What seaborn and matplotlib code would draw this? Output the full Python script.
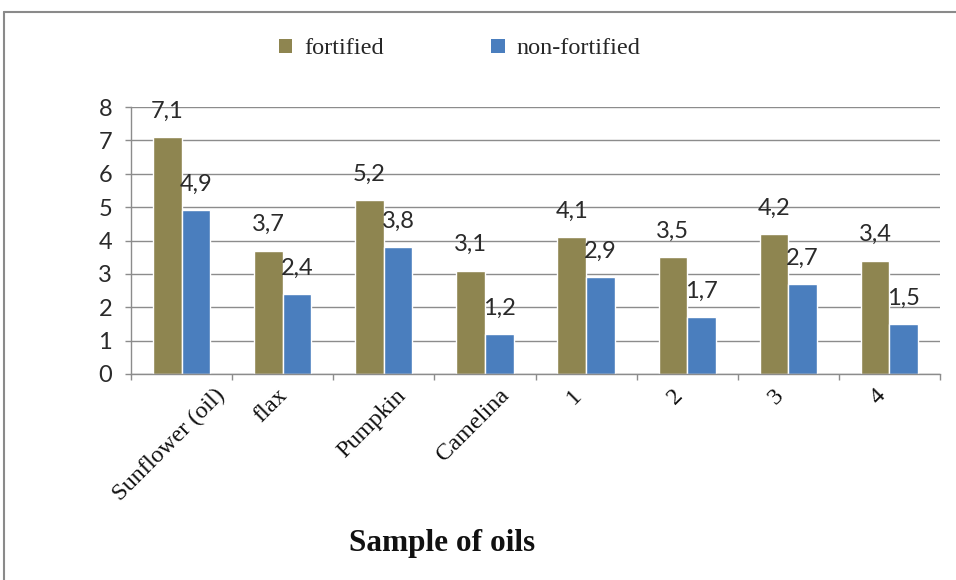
import matplotlib
matplotlib.use("Agg")
import matplotlib.pyplot as plt
import matplotlib.transforms as mtransforms
import seaborn as sns
import pandas as pd
import numpy as np
from matplotlib.lines import Line2D
from matplotlib.patches import Patch

categories = ["Sunflower (oil)", "flax", "Pumpkin", "Camelina", "1", "2", "3", "4"]
series = ["fortified", "non-fortified"]
fortified = [7.1, 3.7, 5.2, 3.1, 4.1, 3.5, 4.2, 3.4]
non_fortified = [4.9, 2.4, 3.8, 1.2, 2.9, 1.7, 2.7, 1.5]
x_title = "Sample of oils"

olive = "#8E8550"
blue = "#4A7EBE"
grid_gray = "#8c8c8c"

df = pd.DataFrame({
    "sample": categories * 2,
    "value": fortified + non_fortified,
    "group": [series[0]] * len(categories) + [series[1]] * len(categories),
})

sns.set_style("white")
plt.rcParams["font.family"] = ["Lato", "DejaVu Sans"]

W, H = 956, 580
fig = plt.figure(figsize=(W / 100, H / 100), dpi=100)
ax = fig.add_axes([131 / W, 1 - 374 / H, (940 - 131) / W, (374 - 107) / H])

sns.barplot(data=df, x="sample", y="value", hue="group", order=categories,
            hue_order=series, palette=[olive, blue], width=0.565, gap=0,
            saturation=1, errorbar=None, legend=False, ax=ax)

ax.set_xlim(-0.5, len(categories) - 0.5)
ax.set_ylim(0, 8)
ax.set_yticks(range(9))
ax.grid(axis="y", color=grid_gray, lw=1)
ax.grid(axis="x", visible=False)
ax.set_axisbelow(True)
for s in ["top", "right"]:
    ax.spines[s].set_visible(False)
for s in ["left", "bottom"]:
    ax.spines[s].set_color(grid_gray)
    ax.spines[s].set_linewidth(1)

ax.tick_params(axis="y", left=True, length=4.5, width=1, color=grid_gray,
               labelsize=17, labelcolor="#2a2a2a", pad=9, direction="out")
ax.set_xticks(range(len(categories)))
ax.set_xticks(np.arange(-0.5, len(categories), 1), minor=True)
ax.tick_params(axis="x", which="major", bottom=True, length=0, pad=8)
ax.tick_params(axis="x", which="minor", bottom=True, length=4.5, width=1,
               color=grid_gray, direction="out")
ax.set_xticklabels(categories, rotation=45, ha="center",
                   fontfamily=["Liberation Serif"], fontsize=17.5, color="#111111")
shift = mtransforms.ScaledTranslation(-12 / 100, 0, fig.dpi_scale_trans)
for lab in ax.get_xticklabels():
    lab.set_transform(lab.get_transform() + shift)
ax.set_xlabel("")
ax.set_ylabel("")

for cont, vals in zip(ax.containers, [fortified, non_fortified]):
    ax.bar_label(cont, labels=[f"{v:.1f}".replace(".", ",") for v in vals],
                 padding=11, fontsize=17, color="#2a2a2a")

handles = [Patch(facecolor=olive, edgecolor="none"),
           Patch(facecolor=blue, edgecolor="none")]
fig.legend(handles, series, loc="center", bbox_to_anchor=(0.481, 1 - 49 / H),
           ncol=2, frameon=False,
           prop={"family": "Liberation Serif", "size": 17.5},
           handlelength=0.55, handleheight=0.55, handletextpad=0.5,
           columnspacing=4.4)

fig.text(442 / W, 1 - 543 / H, x_title, ha="center", va="center",
         fontfamily="Liberation Serif", fontweight="bold", fontsize=22.5,
         color="#111111")

# outer chart frame
fig.add_artist(Line2D([4 / W, 1], [1 - 12 / H, 1 - 12 / H], color="#8a8a8a", lw=1.5))
fig.add_artist(Line2D([4 / W, 4 / W], [0, 1 - 12 / H], color="#8a8a8a", lw=1.5))

fig.savefig("out.png", dpi=100)
